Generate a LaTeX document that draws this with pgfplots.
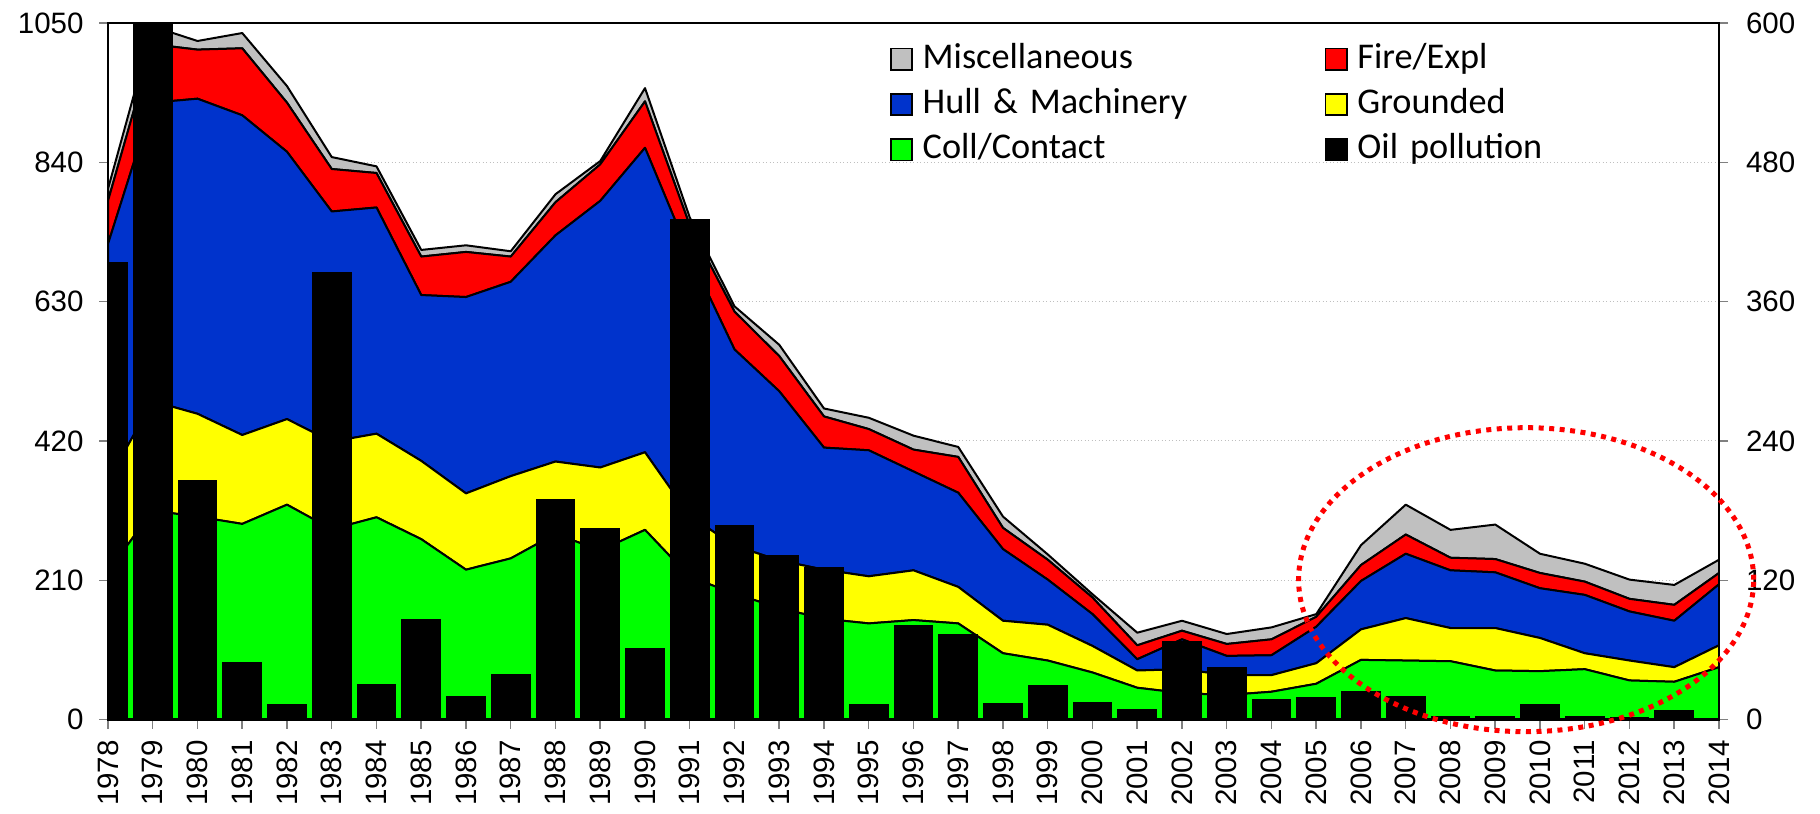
\documentclass[border=0pt]{standalone}
\usepackage{fontspec}
\setmainfont{Liberation Sans}
\newfontfamily\calibri{Carlito}
\usepackage{pgfplots}
\pgfplotsset{compat=1.18}
\usepackage{pgfplotstable}

\definecolor{cgray}{RGB}{192,192,192}
\definecolor{cred}{RGB}{255,0,0}
\definecolor{cblue}{RGB}{0,51,204}
\definecolor{cyel}{RGB}{255,255,0}
\definecolor{cgreen}{RGB}{0,255,0}

\pgfplotstableread{
year coll grounded hull fire misc oil
1978 223 137 357 65 18 394
1979 315 165 450 88 27 620
1980 306 155 475 74 13 206
1981 295 134 482 101 23 49
1982 324 129 403 74 25 13
1983 287 132 347 64 18 385
1984 305 126 341 52 10 30
1985 272 118 250 58 10 86
1986 226 115 296 68 10 20
1987 243 124 293 38 8 39
1988 280 109 341 50 12 190
1989 255 125 402 55 5 165
1990 286 117 459 70 20 61
1991 215 92 393 45 12 431
1992 190 72 296 57 8 167
1993 168 72 255 53 17 141
1994 152 74 184 47 12 131
1995 145 71 190 32 17 13
1996 150 75 149 33 21 81
1997 145 55 142 54 15 73
1998 100 49 108 32 17 14
1999 89 54 68 30 8 29
2000 71 40 48 25 5 15
2001 48 26 17 21 19 9
2002 40 36 45 13 15 67
2003 37 30 29 18 15 45
2004 42 25 30 24 18 17
2005 54 31 55 15 4 19
2006 90 46 73 24 30 24
2007 89 64 97 29 45 20
2008 88 50 87 19 42 3
2009 74 64 84 20 52 3
2010 73 50 75 23 29 13
2011 76 24 88 20 27 3
2012 59 30 74 19 29 2
2013 57 22 70 24 30 8
2014 79 33 92 17 20 0
}\data

\pgfplotsset{
  common/.style={
    at={(43.2pt,37.76pt)}, anchor=south west,
    width=644.4pt, height=278.6pt, scale only axis,
    xmin=1978, xmax=2014, ymin=0,
    tick align=outside,
    major tick length=3.6pt,
    tick style={gray, line width=0.6pt},
    axis line style={black, line width=1pt},
    tick label style={font=\fontsize{11.8}{14}\selectfont},
    /pgf/number format/assume math mode=true,
    /pgf/number format/1000 sep={},
  }
}

\begin{document}
\begin{tikzpicture}
\path[use as bounding box] (0,0) rectangle (728pt,325.6pt);
\begin{axis}[common,
  ymax=1050,
  xtick={1978,...,2014}, ytick={0,210,...,1050},
  xtick pos=left, ytick pos=left,
  stack plots=y,
  ymajorgrids, major grid style={densely dotted, gray!50, line width=0.4pt},
  xticklabel style={rotate=90, anchor=east, inner xsep=4.5pt},
  yticklabel style={inner xsep=6pt},
  every axis plot/.append style={draw=black, line width=0.8pt, line join=round},
]
\addplot[fill=cgreen] table[x=year,y=coll] {\data} \closedcycle;
\addplot[fill=cyel] table[x=year,y=grounded] {\data} \closedcycle;
\addplot[fill=cblue] table[x=year,y=hull] {\data} \closedcycle;
\addplot[fill=cred] table[x=year,y=fire] {\data} \closedcycle;
\addplot[fill=cgray] table[x=year,y=misc] {\data} \closedcycle;
\coordinate (ell) at (axis cs:2009.69,210.9);
\end{axis}
\begin{axis}[common,
  ymax=600,
  axis on top,
  xtick=\empty, ytick={0,120,...,600}, ytick pos=right,
  yticklabel style={inner xsep=7pt},
  legend columns=2,
  legend cell align=left,
  legend image code/.code={\draw[#1, draw=black, line width=0.7pt] (0pt,-4.3pt) rectangle (8.6pt,4.3pt);},
  legend style={at={(0.4854,1)}, anchor=north west, yshift=-7.5pt,
    draw=none, fill=none, inner sep=0pt, outer sep=0pt,
    column sep=0pt, row sep=4.1pt,
    font=\calibri\fontsize{14.5}{17}\selectfont,
    nodes={inner xsep=3.8pt, inner ysep=0pt, text height=10.5pt, text depth=3.5pt, text width=157pt}},
]
\addplot[ybar, bar width=0.87, fill=black, draw=black, forget plot] table[x=year,y=oil] {\data};
\addlegendimage{fill=cgray}
\addlegendentry{Miscellaneous}
\addlegendimage{fill=cred}
\addlegendentry{Fire/Expl}
\addlegendimage{fill=cblue}
\addlegendentry{Hull \& Machinery}
\addlegendimage{fill=cyel}
\addlegendentry{Grounded}
\addlegendimage{fill=cgreen}
\addlegendentry{Coll/Contact}
\addlegendimage{fill=black}
\addlegendentry{Oil pollution}
\end{axis}
\draw[cred, line width=2pt, dash pattern=on 2pt off 2.2pt] (ell) ellipse [x radius=91pt, y radius=60.8pt];
\end{tikzpicture}
\end{document}
